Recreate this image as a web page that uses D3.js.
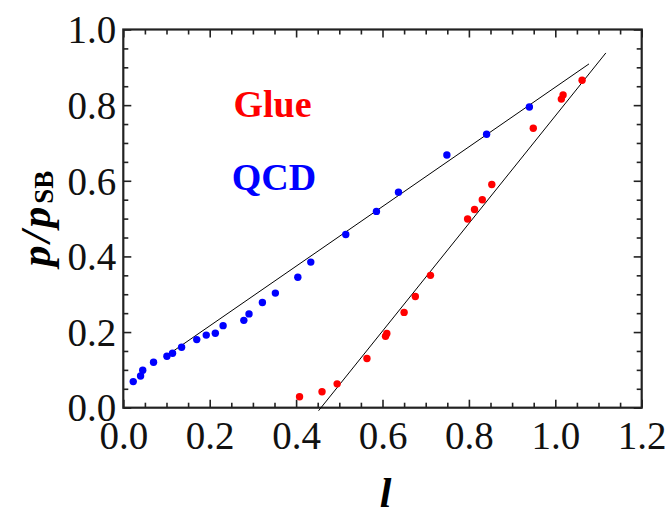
<!DOCTYPE html>
<html><head><meta charset="utf-8">
<script src="https://cdn.jsdelivr.net/npm/d3@7"></script>
<style>body{margin:0;background:#fff} svg{display:block}</style>
</head><body><svg id="c" width="671" height="516"></svg>
<script>
// ---- data ----
const glueL = [0.408,0.460,0.495,0.564,0.607,0.610,0.650,0.676,0.711,0.797,0.813,0.831,0.853,0.949,1.014,1.018,1.062];
const glueP = [0.029,0.042,0.063,0.130,0.189,0.196,0.252,0.294,0.350,0.499,0.524,0.550,0.590,0.739,0.816,0.827,0.866];
const qcdL = [0.023,0.040,0.045,0.070,0.101,0.114,0.135,0.170,0.192,0.213,0.231,0.279,0.291,0.322,0.352,0.404,0.434,0.515,0.586,0.637,0.749,0.841,0.940];
const qcdP = [0.069,0.084,0.099,0.120,0.136,0.144,0.160,0.180,0.192,0.197,0.217,0.231,0.248,0.278,0.303,0.345,0.385,0.458,0.519,0.570,0.668,0.723,0.795];
// fit lines (QCD, Glue)
const fitL1 = [0.116, 0.452];
const fitP1 = [0.150, -0.008];
const fitL2 = [1.078, 1.117];
const fitP2 = [0.909, 0.938];
const xTicks = [0, 0.2, 0.4, 0.6, 0.8, 1.0, 1.2];
const xTickLabels = ["0.0","0.2","0.4","0.6","0.8","1.0","1.2"];
const yTicks = [0, 0.2, 0.4, 0.6, 0.8, 1.0];
const yTickLabels = ["0.0","0.2","0.4","0.6","0.8","1.0"];
const labelText = ["Glue","QCD"];
const labelL = [0.255, 0.251];
const labelP = [0.768, 0.575];
const labelColor = ["#ff0000","#0000ff"];

// ---- layout ----
const pL = 123.3, pR = 641.7, pT = 29.5, pB = 407.7;
const x = d3.scaleLinear().domain([0, 1.2]).range([pL, pR]);
const y = d3.scaleLinear().domain([0, 1.0]).range([pB, pT]);
const svg = d3.select("#c");
const font = "'Liberation Serif','Times New Roman',serif";

const xMinor = d3.range(0, 1.2001, 0.05).filter(v => Math.abs(v*5 - Math.round(v*5)) > 1e-6);
const yMinor = d3.range(0, 1.0001, 0.05).filter(v => Math.abs(v*5 - Math.round(v*5)) > 1e-6);
const tickColor = "#222";

function ticks(axisFn, scale, vals, size, translate, labels) {
  const g = svg.append("g").attr("transform", translate)
    .call(axisFn(scale).tickValues(vals).tickSize(-size).tickPadding(0)
      .tickFormat((d,i) => labels ? labels[i] : ""));
  g.select(".domain").remove();
  g.selectAll(".tick line").attr("stroke", tickColor).attr("stroke-width", 1.6);
  return g;
}
// bottom
const gb = ticks(d3.axisBottom, x, xTicks, 8, `translate(0,${pB})`, xTickLabels);
gb.selectAll("text").attr("y", 41).attr("dy", null)
  .style("font-family", font).style("font-size", "39px").attr("fill", "#111");
ticks(d3.axisBottom, x, xMinor, 5, `translate(0,${pB})`, null);
// top
ticks(d3.axisTop, x, xTicks, 8, `translate(0,${pT})`, null);
ticks(d3.axisTop, x, xMinor, 5, `translate(0,${pT})`, null);
// left
const gl = ticks(d3.axisLeft, y, yTicks, 8, `translate(${pL},0)`, yTickLabels);
gl.selectAll("text").attr("x", -7).attr("dy", "0.34em")
  .style("font-family", font).style("font-size", "39px").attr("fill", "#111");
ticks(d3.axisLeft, y, yMinor, 5, `translate(${pL},0)`, null);
// right
ticks(d3.axisRight, y, yTicks, 8, `translate(${pR},0)`, null);
ticks(d3.axisRight, y, yMinor, 5, `translate(${pR},0)`, null);

// frame
svg.append("rect").attr("x", pL).attr("y", pT)
  .attr("width", pR - pL).attr("height", pB - pT)
  .attr("fill", "none").attr("stroke", tickColor).attr("stroke-width", 2.2);

// fit lines
svg.append("g").selectAll("line").data(fitL1).join("line")
  .attr("x1", (d,i) => x(fitL1[i])).attr("y1", (d,i) => y(fitP1[i]))
  .attr("x2", (d,i) => x(fitL2[i])).attr("y2", (d,i) => y(fitP2[i]))
  .attr("stroke", "#000").attr("stroke-width", 1);

// points
svg.append("g").selectAll("circle").data(qcdL).join("circle")
  .attr("cx", (d,i) => x(qcdL[i])).attr("cy", (d,i) => y(qcdP[i]))
  .attr("r", 3.7).attr("fill", "#0000ff");
svg.append("g").selectAll("circle").data(glueL).join("circle")
  .attr("cx", (d,i) => x(glueL[i])).attr("cy", (d,i) => y(glueP[i]))
  .attr("r", 3.7).attr("fill", "#ff0000");

// labels
svg.append("g").selectAll("text").data(labelText).join("text")
  .attr("x", (d,i) => x(labelL[i])).attr("y", (d,i) => y(labelP[i]))
  .attr("fill", (d,i) => labelColor[i])
  .style("font-family", font).style("font-size", "38px").style("font-weight", "bold")
  .text(d => d);

// axis titles
svg.append("text").attr("x", (pL + pR) / 2 + 3).attr("y", 507)
  .attr("text-anchor", "middle")
  .style("font-family", font).style("font-size", "42px")
  .style("font-weight", "bold").style("font-style", "italic").text("l");

const yt = svg.append("text")
  .attr("transform", `translate(50,${(pT + pB) / 2}) rotate(-90)`)
  .attr("text-anchor", "middle")
  .style("font-family", font).style("font-weight", "bold");
yt.append("tspan").style("font-size", "42px").style("font-style", "italic")
  .attr("letter-spacing", "3px").text("p/p");
yt.append("tspan").style("font-size", "27px").attr("dy", 3).text("SB");
</script>
</body></html>
